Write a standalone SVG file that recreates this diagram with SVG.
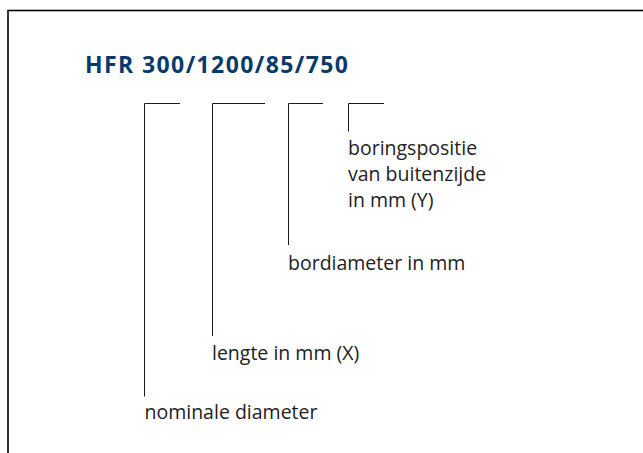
<svg xmlns="http://www.w3.org/2000/svg" width="643" height="453" viewBox="0 0 643 453">
<style>
.frame{fill:none;stroke:#000;stroke-width:1.6}
.br{fill:none;stroke:#1a1a1a;stroke-width:1}
.t{font-family:"Open Sans","Noto Sans",sans-serif;font-size:19.5px;fill:#222}
.title{font-family:"Open Sans","Noto Sans",sans-serif;font-size:23px;font-weight:bold;letter-spacing:1.4px;fill:#0a3a6a}
</style>
<rect width="643" height="453" fill="#fff"/>
<rect class="frame" x="8" y="10.5" width="700" height="500"/>
<g id="title"><text class="title" x="85" y="72.7">HFR 300/1200/85/750</text></g>
<g id="connectors">
<path class="br" d="M144.5,396.5 V103.5 H180"/>
<path class="br" d="M212.5,336 V103.5 H265"/>
<path class="br" d="M288.5,245 V103.5 H323"/>
<path class="br" d="M348.5,131.5 V103.5 H384"/>
</g>
<g id="n-boring"><text class="t" x="348"><tspan x="348" y="155">boringspositie</tspan><tspan x="348" y="181">van buitenzijde</tspan><tspan x="348" y="207">in mm (Y)</tspan></text></g>
<g id="n-bord"><text class="t" x="288" y="270">bordiameter in mm</text></g>
<g id="n-lengte"><text class="t" x="212" y="360">lengte in mm (X)</text></g>
<g id="n-nominale"><text class="t" x="144.5" y="419">nominale diameter</text></g>
</svg>
